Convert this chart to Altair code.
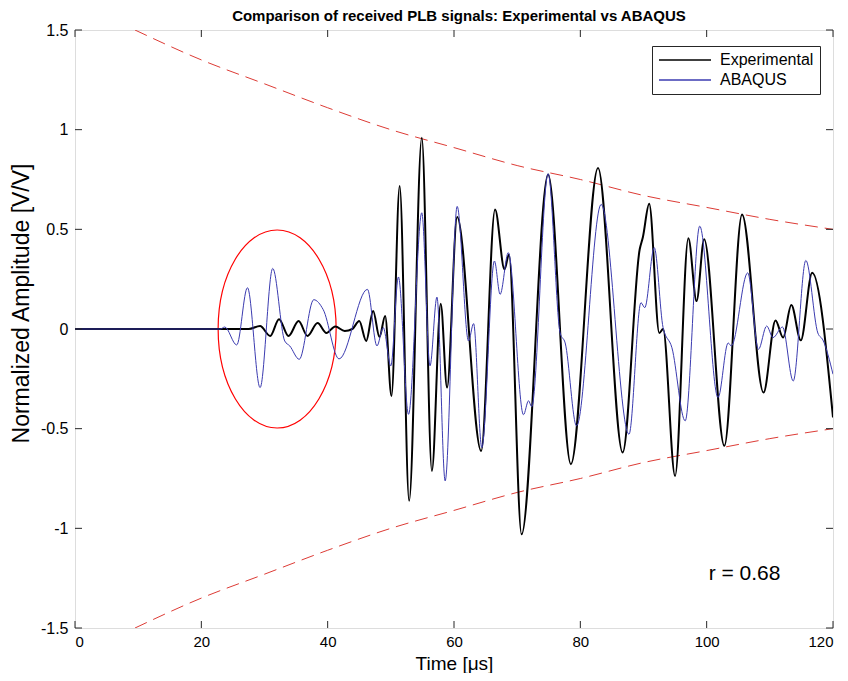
import altair as alt
import pandas as pd

# ---- data ----
exp_t = [0, 27.5, 29.3, 30.9, 32.3, 33.8, 35.4, 36.8, 38.4, 39.8,
         41.2, 42.7, 43.9, 45.0, 46.1, 47.2, 48.2, 49.1, 50.1, 51.4,
         52.9, 54.9, 56.5, 57.9, 58.9, 60.5, 64.3, 66.5, 68.0, 68.7,
         70.7, 74.9, 78.5, 82.8, 86.7, 89.4, 89.9, 90.9, 92.5, 93.1,
         95.0, 97.1, 98.4, 99.6, 102.8, 105.6, 109.0, 110.9, 112.1, 113.4,
         114.9, 116.7, 120.0]
exp_v = [0, 0, 0.015, -0.035, 0.049, -0.035, 0.04, -0.035, 0.03, -0.02,
         0.013, -0.01, 0.0, 0.04, -0.06, 0.09, -0.04, 0.065, -0.336, 0.717,
         -0.862, 0.959, -0.712, 0.127, -0.294, 0.562, -0.612, 0.60, 0.299, 0.374,
         -1.03, 0.775, -0.678, 0.808, -0.62, 0.40, 0.46, 0.628, -0.02, 0.0,
         -0.737, 0.455, 0.14, 0.45, -0.586, 0.575, -0.319, 0.043, -0.043, 0.12,
         -0.057, 0.282, -0.444]

aba_t = [0, 23.0, 23.7, 25.6, 27.3, 29.3, 31.3, 33.2, 34.0, 35.5,
         37.8, 39.3, 41.8, 46.3, 47.8, 48.8, 50.0, 51.2, 52.8, 54.9,
         56.2, 57.3, 58.6, 60.5, 62.3, 63.1, 64.4, 66.4, 67.3, 68.6,
         71.0, 71.8, 72.3, 74.9, 76.8, 77.6, 79.4, 83.3, 87.7, 89.6,
         90.2, 91.7, 93.1, 94.5, 96.6, 98.9, 101.8, 103.4, 103.9, 106.5,
         108.2, 109.5, 110.5, 112.0, 113.7, 115.7, 117.6, 118.4, 120.0]
aba_v = [0, 0, 0.01, -0.08, 0.207, -0.294, 0.304, -0.06, -0.085, -0.152,
         0.147, 0.097, -0.15, 0.199, -0.085, 0.007, -0.185, 0.261, -0.428, 0.583,
         -0.185, 0.16, -0.762, 0.615, -0.06, 0.027, -0.595, 0.341, 0.174, 0.383,
         -0.43, -0.36, -0.39, 0.779, -0.02, -0.07, -0.486, 0.625, -0.528, 0.132,
         0.107, 0.408, 0.007, -0.094, -0.461, 0.516, -0.344, -0.07, -0.085, 0.282,
         -0.102, 0.015, -0.043, 0.01, -0.261, 0.344, -0.02, -0.055, -0.227]

env_t = [9.5, 20, 30, 40, 50, 60, 70, 80, 90, 100, 110, 120]
env_upper = [1.50, 1.35, 1.23, 1.11, 1.00, 0.91, 0.82, 0.75, 0.67, 0.61, 0.55, 0.50]
env_lower = [-1.50, -1.35, -1.23, -1.11, -1.00, -0.91, -0.82, -0.75, -0.67, -0.61, -0.55, -0.50]

series_names = ["Experimental", "ABAQUS"]
series_colors = ["#000000", "#3b3bb0"]

x_ticks = [0, 20, 40, 60, 80, 100, 120]
y_ticks = [-1.5, -1, -0.5, 0, 0.5, 1, 1.5]

circle_t = [32.0]
circle_v = [0.0]

annot_text = ["r = 0.68"]
annot_t = [106.0]
annot_v = [-1.23]

title_text = ["Comparison of received PLB signals: Experimental vs ABAQUS"]

# ---- layout / style ----
W, H = 758, 598
TICK = 7
AXC = "#262626"
FONT = "Liberation Sans"

xs = alt.Scale(domain=[0, 120], nice=False, zero=False)
ys = alt.Scale(domain=[-1.5, 1.5], nice=False, zero=False)

x_axis = alt.Axis(values=x_ticks, title="Time [μs]", labelFontSize=15,
                  labelPadding=6, titleFontSize=19, titleY=41,
                  titleBaseline="alphabetic", titleFontWeight="normal",
                  grid=False, domain=False, ticks=False)
y_axis = alt.Axis(values=y_ticks, title="Normalized Amplitude [V/V]",
                  labelExpr="'' + datum.value", labelFontSize=16,
                  labelPadding=7, titleFontSize=23, titleX=-47, titleY=273,
                  titleBaseline="alphabetic", titleFontWeight="normal",
                  grid=False, domain=False, ticks=False)


def X(field="t"):
    return alt.X(f"{field}:Q", scale=xs, axis=x_axis)


def Y(field="v"):
    return alt.Y(f"{field}:Q", scale=ys, axis=y_axis)


color_enc = alt.Color(
    "series:N",
    scale=alt.Scale(domain=series_names, range=series_colors),
    legend=alt.Legend(
        title=None, orient="none", legendX=577, legendY=16,
        symbolType="stroke", symbolSize=2704, symbolStrokeWidth=1.5,
        clipHeight=16, rowPadding=4, labelFontSize=16, labelFont=FONT,
        labelColor="#000000", fillColor="white", strokeColor=AXC,
        padding=6, labelOffset=8,
    ),
)

exp_df = pd.DataFrame({"t": exp_t, "v": exp_v, "series": "Experimental"})
aba_df = pd.DataFrame({"t": aba_t, "v": aba_v, "series": "ABAQUS"})
env_up_df = pd.DataFrame({"t": env_t, "v": env_upper})
env_lo_df = pd.DataFrame({"t": env_t, "v": env_lower})
xt_df = pd.DataFrame({"t": x_ticks})
yt_df = pd.DataFrame({"v": y_ticks})
circ_df = pd.DataFrame({"t": circle_t, "v": circle_v})
ann_df = pd.DataFrame({"t": annot_t, "v": annot_v, "label": annot_text})
title_df = pd.DataFrame({"label": title_text})

env_style = dict(color="#dd3b35", strokeWidth=1, strokeDash=[13, 7],
                 interpolate="monotone", clip=True)
env_up = alt.Chart(env_up_df).mark_line(**env_style).encode(x=X(), y=Y())
env_lo = alt.Chart(env_lo_df).mark_line(**env_style).encode(x=X(), y=Y())

exp_line = alt.Chart(exp_df).mark_line(
    interpolate="monotone", strokeWidth=2, clip=True
).encode(x=X(), y=Y(), color=color_enc)

aba_line = alt.Chart(aba_df).mark_line(
    interpolate="monotone", strokeWidth=1, clip=True
).encode(x=X(), y=Y(), color=color_enc)

# ellipse outline (custom symbol path, width:height = 0.596:1)
ellipse_path = ("M 0 -1 C 0.3292 -1 0.596 -0.5523 0.596 0 "
                "C 0.596 0.5523 0.3292 1 0 1 "
                "C -0.3292 1 -0.596 0.5523 -0.596 0 "
                "C -0.596 -0.5523 -0.3292 -1 0 -1 Z")
circle = alt.Chart(circ_df).mark_point(
    shape=ellipse_path, size=198 * 198, filled=False, stroke="#ff0000",
    strokeWidth=1.2, opacity=1
).encode(x=X(), y=Y())

annot = alt.Chart(ann_df).mark_text(
    font=FONT, fontSize=21, color="#000000"
).encode(x=X(), y=Y(), text="label:N")

title_mark = alt.Chart(title_df).mark_text(
    font=FONT, fontSize=15, fontWeight="bold", color="#000000",
    align="center", baseline="alphabetic"
).encode(x=alt.value(W / 2 + 5), y=alt.value(-9), text="label:N")

rule_style = dict(color=AXC, strokeWidth=1)
ticks_bottom = alt.Chart(xt_df).mark_rule(**rule_style).encode(
    x=X(), y=alt.value(H), y2=alt.value(H - TICK))
ticks_top = alt.Chart(xt_df).mark_rule(**rule_style).encode(
    x=X(), y=alt.value(0), y2=alt.value(TICK))
ticks_left = alt.Chart(yt_df).mark_rule(**rule_style).encode(
    y=Y(), x=alt.value(0), x2=alt.value(TICK))
ticks_right = alt.Chart(yt_df).mark_rule(**rule_style).encode(
    y=Y(), x=alt.value(W), x2=alt.value(W - TICK))

chart = alt.layer(
    env_up, env_lo, circle, exp_line, aba_line, annot, title_mark,
    ticks_bottom, ticks_top, ticks_left, ticks_right,
).properties(
    width=W, height=H,
    autosize=alt.AutoSizeParams(type="none"),
    padding={"left": 67, "top": 22, "right": 5, "bottom": 45},
).configure_view(
    stroke=AXC, strokeWidth=1
).configure_axis(
    domain=False, ticks=False, grid=False,
    labelFont=FONT, titleFont=FONT, labelColor=AXC, titleColor=AXC,
).configure(background="white")

chart.save("out.html", embed_options={"renderer": "svg", "actions": False})
